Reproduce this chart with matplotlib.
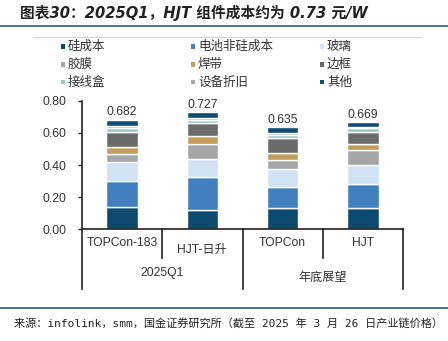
import matplotlib
matplotlib.use("Agg")
import matplotlib.pyplot as plt
from matplotlib.patches import Rectangle
from matplotlib.lines import Line2D

plt.rcParams['font.family'] = ['Liberation Sans', 'Noto Sans CJK SC', 'DejaVu Sans']

categories = ['TOPCon-183', 'HJT-日升', 'TOPCon', 'HJT']
groups = ['2025Q1', '年底展望']
series_names = ['硅成本', '电池非硅成本', '玻璃', '胶膜', '焊带', '边框', '接线盒', '设备折旧', '其他']
silicon = [0.137, 0.122, 0.133, 0.135]
cell_non_si = [0.163, 0.201, 0.133, 0.145]
glass = [0.121, 0.114, 0.112, 0.119]
film = [0.050, 0.094, 0.054, 0.092]
ribbon = [0.040, 0.048, 0.041, 0.038]
frame = [0.097, 0.083, 0.092, 0.079]
junction_box = [0.022, 0.020, 0.023, 0.023]
depreciation = [0.011, 0.009, 0.012, 0.008]
other = [0.041, 0.036, 0.035, 0.030]
series = [silicon, cell_non_si, glass, film, ribbon, frame, junction_box, depreciation, other]
yticks = [0.0, 0.2, 0.4, 0.6, 0.8]

colors = ['#0d4a70', '#427fbf', '#d0e2f3', '#a6a6a6', '#c49d5c',
          '#6b6b6b', '#93c6cf', '#aaa5b8', '#0f4c73']

W, H = 448, 341
fig = plt.figure(figsize=(W / 100, H / 100), dpi=100)

def fx(px):
    return px / W

def fy(py):
    return 1 - py / H

# Axes
ax_left, ax_right, ax_top, ax_bottom = 82, 403, 100.7, 229.3
ax = fig.add_axes([fx(ax_left), fy(ax_bottom), (ax_right - ax_left) / W, (ax_bottom - ax_top) / H])

x = list(range(len(categories)))
bottom = [0.0] * len(categories)
for vals, col in zip(series, colors):
    ax.bar(x, vals, width=0.39, bottom=bottom, color=col, edgecolor='white', linewidth=1.0)
    bottom = [b + v for b, v in zip(bottom, vals)]

for xi, tot in zip(x, bottom):
    ax.text(xi, tot + 0.045, f'{tot:.3f}', ha='center', va='center', fontsize=8.8,
            color='#333333', clip_on=False)

ax.set_xlim(-0.5, 3.5)
ax.set_ylim(0, 0.8)
ax.set_yticks(yticks)
ax.set_yticklabels([f'{v:.2f}' for v in yticks], fontsize=8.8, color='#333333')
ax.tick_params(axis='y', direction='out', length=3, width=1, pad=8, colors='#222222',
               labelcolor='#333333')
ax.set_xticks([])
for s in ['top', 'right']:
    ax.spines[s].set_visible(False)
for s in ['left', 'bottom']:
    ax.spines[s].set_color('#222222')
    ax.spines[s].set_linewidth(1.2)

tr = ax.get_xaxis_transform()
short_y = (ax_bottom - 258) / (ax_bottom - ax_top)
long_y = (ax_bottom - 289) / (ax_bottom - ax_top)
for xv in [-0.5, 1.5, 3.5]:
    ax.add_line(Line2D([xv, xv], [0, long_y], transform=tr, color='#222222', lw=1.2, clip_on=False))
for xv in [0.5, 2.5]:
    ax.add_line(Line2D([xv, xv], [0, short_y], transform=tr, color='#222222', lw=1.2, clip_on=False))

cat_y = [243, 250, 243, 243]
for xi, c, cy in zip(x, categories, cat_y):
    ax.text(xi, (ax_bottom - cy) / (ax_bottom - ax_top), c, transform=tr, ha='center', va='center',
            fontsize=8.7, color='#333333')
grp_y = [273, 278]
for gi, (g, gy) in enumerate(zip(groups, grp_y)):
    ax.text(0.5 + 2 * gi, (ax_bottom - gy) / (ax_bottom - ax_top), g, transform=tr, ha='center',
            va='center', fontsize=8.7, color='#333333')

# Legend (row-major, 3 columns)
col_x = [63, 193, 322]
row_y = [46.5, 64.5, 82]
sq = 4.5
for i, (name, col) in enumerate(zip(series_names, colors)):
    r, c = divmod(i, 3)
    mx, my = col_x[c], row_y[r]
    fig.add_artist(Rectangle((fx(mx - sq / 2), fy(my + sq / 2)), sq / W, sq / H,
                             transform=fig.transFigure, facecolor=col, edgecolor='none'))
    fig.text(fx(mx + 5), fy(my), name, ha='left', va='center', fontsize=9,
             color='#333333', family=['Noto Sans CJK SC', 'DejaVu Sans'])

# Title and decorations
fig.text(fx(20), fy(13), '图表30：2025Q1，HJT 组件成本约为 0.73 元/W', ha='left', va='center',
         fontsize=10.6, fontweight='bold', style='italic', color='#222222',
         family=['DejaVu Sans', 'Noto Sans CJK SC'])
fig.add_artist(Line2D([0, 1], [fy(26), fy(26)], transform=fig.transFigure, color='#2b5a85', lw=1.2))
fig.add_artist(Line2D([fx(33), fx(421)], [fy(37), fy(37)], transform=fig.transFigure,
                      color='#d4d4d4', lw=0.8))
fig.add_artist(Line2D([0, 1], [fy(307.7), fy(307.7)], transform=fig.transFigure, color='#2b5a85', lw=1.2))
fig.text(fx(14), fy(324), '来源：infolink，smm，国金证券研究所（截至 2025 年 3 月 26 日产业链价格）',
         ha='left', va='center', fontsize=8.0, color='#222222',
         family=['DejaVu Sans Mono', 'Noto Sans CJK SC'])

fig.savefig('out.png', dpi=100)
